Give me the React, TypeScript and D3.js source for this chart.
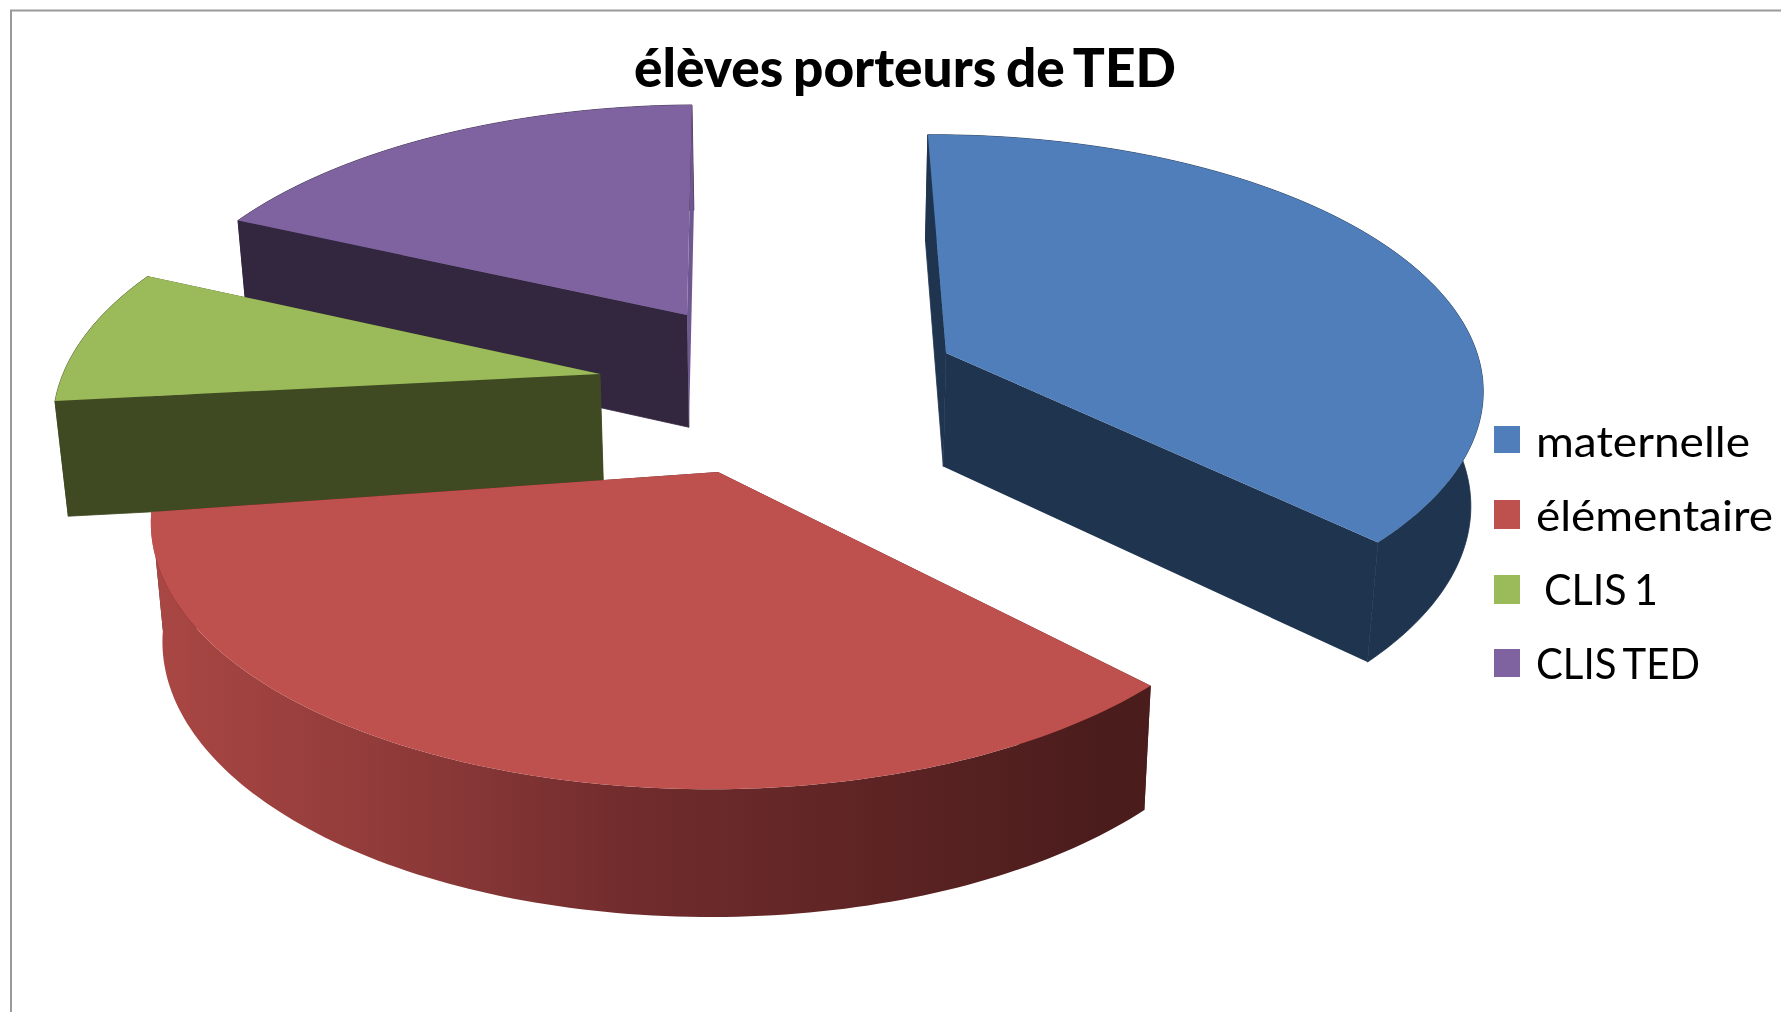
import React from "react";
import * as d3 from "d3";

const title = "élèves porteurs de TED";
const categories = ["maternelle", "élémentaire", "CLIS 1", "CLIS TED"];
const values = [41, 39, 10, 20];
const topColours = ["#4F7EBA", "#BE504D", "#9BBA59", "#7F63A1"];
const sideColours = ["#1F344F", "url(#redRim)", "#3F4A23", "#33263F"];
const endWallColours = ["#1F344F", "#4C1D1C", "#3F4A23", "#6F578F"];
const redRimStops = ["#AA4744", "#8E3A39", "#722C2D", "#4B1C1C"];

// layout of the exploded slices (apex of each slice on the page)
const apexX = [946, 718, 600, 687];
const apexY = [353, 472, 374, 315];
const rimShiftX = [-14, -9, 8, 13];
const radiusBySlice = [545, 548, 545, 545];
const ryBySlice = [251, 257, 255, 250];
const perspectiveBySlice = [0.15, 0.19, 0.19, 0.19];
const startNudgeDeg = [0, 2.2, 2.7, 0];
const endNudgeDeg = [-1, 0, 0.4, -0.5];
const drawOrder = [3, 2, 0, 1];
const legendTextX = [1536, 1536, 1544, 1536];
const legendTextLength = [214, 237, 114, 164];
const legendBaseline = [457, 531, 605, 679];
const legendBoxTop = [426, 500, 575, 649];
const legendBoxHeight = [27, 29, 29, 28];

const arcs = d3
  .pie<number>()
  .sort(null)
  .startAngle((-0.5 * Math.PI) / 180)
  .endAngle((359.5 * Math.PI) / 180)(values);

const depth = d3.scaleLinear().domain([0, 1000]).range([102, 134.6]);
const bottomX = d3.scaleLinear().domain([795, 1795]).range([795, 1777]);

type Pt = [number, number];
const top = (i: number, t: number): Pt => {
  const w = 1 + perspectiveBySlice[i] * Math.cos(t);
  return [
    apexX[i] + rimShiftX[i] + (radiusBySlice[i] * Math.sin(t)) / w,
    apexY[i] - (ryBySlice[i] * Math.cos(t)) / w,
  ];
};
const bottom = (p: Pt): Pt => [bottomX(p[0]), p[1] + depth(p[1])];
const line = d3.line<Pt>().curve(d3.curveLinear);
const rad = Math.PI / 180;

const rim = (i: number): Pt[] => {
  const a = arcs[i];
  const s = a.startAngle + startNudgeDeg[i] * rad;
  const e = a.endAngle + endNudgeDeg[i] * rad;
  return d3.range(0, 1.0001, 1 / 120).map((f) => top(i, s + f * (e - s)));
};

export default function App() {
  const font = "Lato, 'Open Sans', sans-serif";
  return (
    <svg
      width={1781}
      height={1012}
      viewBox="0 0 1781 1012"
      style={{ position: "absolute", left: 0, top: 0, display: "block", background: "#fff" }}
    >
      <defs>
        <linearGradient id="redRim" gradientUnits="userSpaceOnUse" x1={150} x2={1100} y1={0} y2={0}>
          {redRimStops.map((c, i) => (
            <stop key={i} offset={[0, 0.27, 0.5, 1][i]} stopColor={c} />
          ))}
        </linearGradient>
        <filter id="soft" x="-5%" y="-5%" width="110%" height="110%">
          <feGaussianBlur stdDeviation="0.5" />
        </filter>
      </defs>
      <path d="M1781,10.5 H11 V1012" fill="none" stroke="#9A9A9A" strokeWidth={2} />
      {drawOrder.map((i) => {
        const pts = rim(i);
        const apex: Pt = [apexX[i], apexY[i]];
        const first = pts[0];
        const last = pts[pts.length - 1];
        const rimWall = [...pts, ...pts.slice().reverse().map(bottom)];
        const startWall = [apex, first, bottom(first), bottom(apex)];
        const endWall = [apex, last, bottom(last), bottom(apex)];
        const lightEnd = i === 3;
        const end = <path d={line(endWall) + "Z"} fill={endWallColours[i]} />;
        return (
          <g key={categories[i]}>
            {!lightEnd && end}
            <path d={line(startWall) + "Z"} fill={i === 1 ? endWallColours[i] : sideColours[i]} stroke={i === 1 ? "none" : sideColours[i]} strokeWidth={0.8} />
            <path d={line(rimWall) + "Z"} fill={sideColours[i]} stroke={i === 1 ? "none" : sideColours[i]} strokeWidth={0.8} />
            {lightEnd && end}
            <path d={line([apex, ...pts]) + "Z"} fill={topColours[i]} />
          </g>
        );
      })}
      <text
        x={634}
        y={87}
        fontFamily={font}
        fontWeight={900}
        fontSize={53}
        wordSpacing={-3}
        textLength={542}
        lengthAdjust="spacingAndGlyphs"
        fill="#000"
        filter="url(#soft)"
      >
        {title}
      </text>
      {categories.map((c, i) => (
        <g key={c}>
          <rect x={1494} y={legendBoxTop[i]} width={26} height={legendBoxHeight[i]} fill={topColours[i]} />
          <text
            x={legendTextX[i]}
            y={legendBaseline[i]}
            fontFamily={font}
            fontSize={42}
            wordSpacing={-3}
            textLength={legendTextLength[i]}
            lengthAdjust="spacingAndGlyphs"
            fill="#000"
            filter="url(#soft)"
          >
            {c}
          </text>
        </g>
      ))}
    </svg>
  );
}
